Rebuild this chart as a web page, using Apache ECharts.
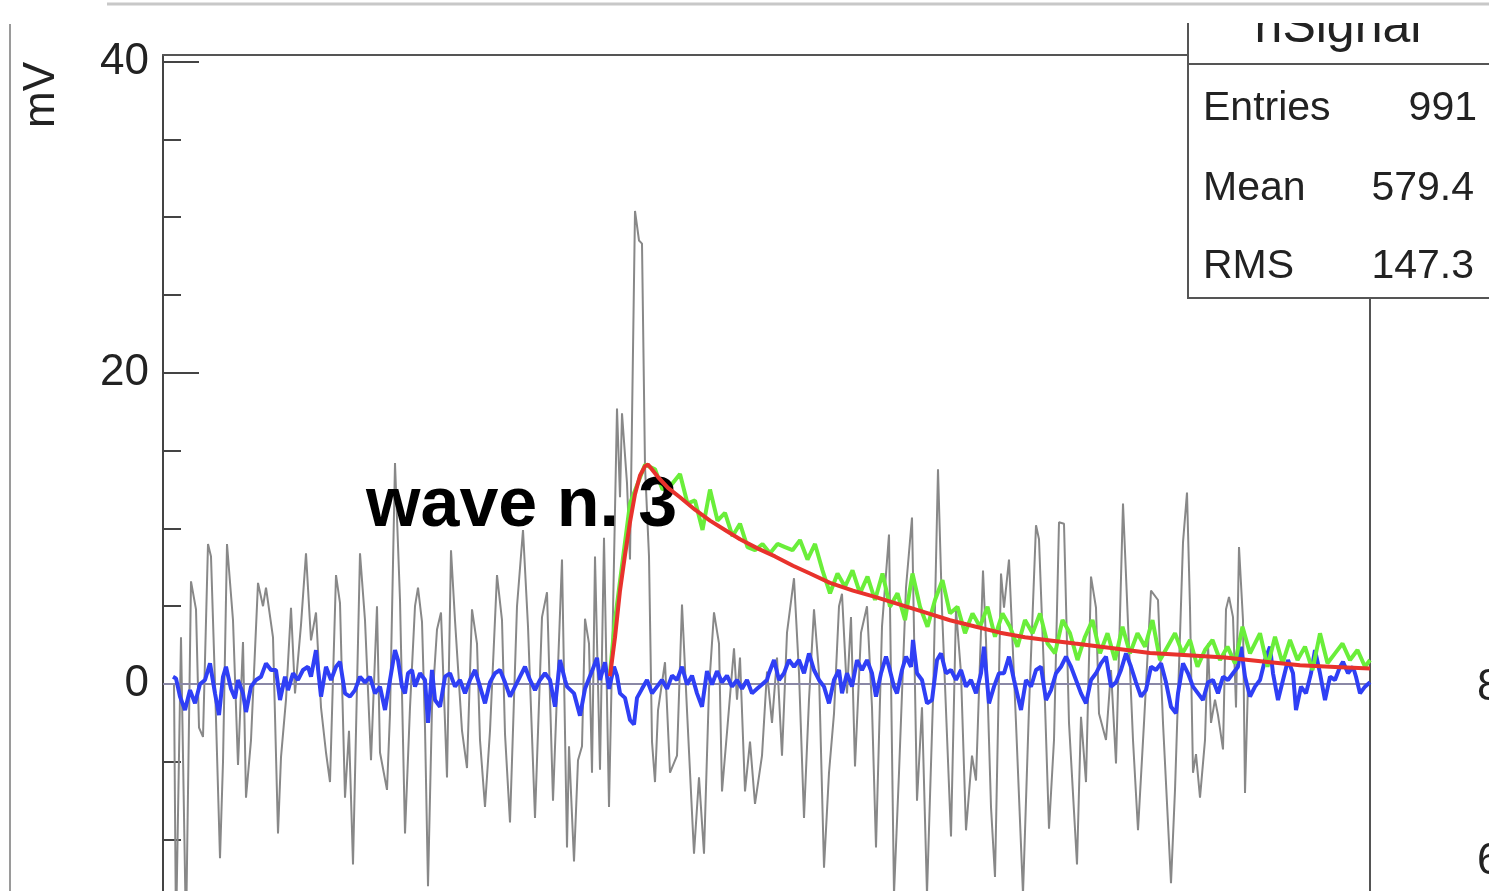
<!DOCTYPE html>
<html>
<head>
<meta charset="utf-8">
<script src="https://cdn.jsdelivr.net/npm/echarts@6/dist/echarts.min.js"></script>
<style>
html,body{margin:0;padding:0;background:#fff;}
#c{width:1489px;height:891px;}
</style>
</head>
<body>
<div id="c"></div>
<script>
// ---- data (x: sample time units, y: mV) ----
const Y_MIN = -13.3;
const Y_MAX = 40.42;
const Y_LABELS = [0, 20, 40];
const MAJOR_TICKS = [0, 20, 40];
const MINOR_TICKS = [-10, -5, 5, 10, 15, 25, 30, 35];
const STAT_NAMES = ['Entries', 'Mean', 'RMS'];
const STAT_VALUES = ['991', '579.4', '147.3'];
const HIST_TITLE = 'hSignal';
const WAVE_LABEL = 'wave n. 3';
const Y_TITLE = 'mV';
const NEIGHBOR_LABELS = ['8', '6'];

const BASELINE = [[0, 0], [1207, 0]];

const GRAY = [[11,0],[13,-16],[18,3],[23,-16],[28,6.6],[33,4.8],[36,-2.8],[40,-3.4],[45,9.0],[48,8.2],[52,0],[57,-11.2],[60,-5],[64,9.0],[70,4.1],[75,-5.2],[80,2.7],[83,-7.3],[88,-3.6],[95,6.5],[100,5.0],[103,6.2],[110,3.0],[115,-9.6],[118,-4.7],[123,-1],[128,4.9],[132,-0.6],[138,3.8],[143,8.4],[148,2.8],[153,4.6],[158,-1.5],[163,-4.4],[167,-6.3],[173,7.0],[177,5.2],[182,-7.3],[186,-3],[190,-11.6],[197,8.4],[202,4.1],[208,-4.9],[214,5.0],[217,-4.4],[224,-6.8],[227,-1.9],[232,14.2],[237,5.4],[242,-9.6],[247,-1.5],[252,5.0],[255,6.2],[259,4.0],[262,-2.8],[265,-13.0],[269,-1.5],[274,3.5],[278,4.6],[284,-6.0],[288,8.6],[292,4.1],[299,-3.0],[304,-5.4],[309,4.8],[314,2.6],[317,-3.6],[322,-7.9],[327,-3.0],[334,7.0],[339,4.1],[342,-3.2],[347,-8.9],[354,5.0],[360,9.9],[365,3.7],[372,-8.6],[379,4.3],[384,5.9],[390,-7.5],[399,8.0],[404,-10.5],[406,-4.0],[411,-11.4],[415,-4.9],[419,-4.0],[422,4.2],[426,2.6],[429,-5.7],[432,8.2],[437,-5.5],[441,9.4],[446,-7.9],[449,1.4],[454,17.7],[457,12],[459,17.4],[464,12.9],[467,8],[472,30.4],[476,28.5],[479,28.3],[482,14.0],[486,8.2],[489,-3.7],[492,-6.3],[495,-1.7],[502,1.4],[507,-5.7],[514,-4.6],[519,5.1],[524,-1.7],[531,-10.9],[536,-6],[541,-10.9],[546,-0.3],[551,4.6],[556,2.6],[559,-6.9],[564,-3.1],[571,2.3],[574,-1],[577,1.7],[582,-6.9],[587,-3.7],[592,-7.7],[599,-4.6],[604,0.8],[609,-2.5],[614,1.7],[619,-4.6],[624,3.3],[631,6.8],[636,0.7],[641,-8.6],[646,-1.0],[651,4.8],[656,0.7],[661,-11.8],[666,-5.7],[671,-1.9],[676,5.0],[679,5.8],[684,-0.6],[688,4.3],[692,-5.3],[698,3.3],[704,5.0],[709,-1.5],[713,-10.5],[719,3.7],[726,9.6],[731,-13.5],[736,-5.7],[743,6.2],[749,10.7],[754,-7.5],[759,-1.5],[764,-13.5],[770,-1],[775,13.8],[779,4.8],[788,-9.8],[793,4.8],[798,0.7],[803,-9.4],[809,-4.6],[813,-6.2],[820,7.3],[823,2.8],[828,-7.9],[832,-12.4],[838,7.1],[841,4.9],[846,8.0],[853,-2.5],[860,-13.5],[866,-1.5],[873,10.2],[876,9.3],[881,0.7],[886,-9.3],[891,-3.6],[896,10.4],[901,10.3],[906,-2.5],[914,-11.6],[918,-2.1],[923,-6.3],[928,6.9],[933,4.9],[936,-1.9],[943,-3.6],[948,0.9],[953,-5.1],[960,11.6],[965,3.9],[970,-3.6],[975,-9.4],[981,-2.5],[988,6.0],[995,5.4],[1000,-2.5],[1008,-12.8],[1012,-6.8],[1020,9.1],[1024,12.3],[1027,4.9],[1030,-5.7],[1033,-4.5],[1037,-7.3],[1042,-3.6],[1045,2.6],[1048,-2.5],[1052,-1.0],[1055,-2.0],[1060,-4.2],[1063,4.8],[1066,5.6],[1070,4.3],[1073,-1.5],[1076,8.8],[1080,4.1],[1082,-7.0],[1085,0]];

const BLUE = [[10,0.47],[13,0.36],[17,-0.81],[22,-1.67],[27,-0.39],[32,-1.24],[37,0],[42,0.26],[47,1.33],[52,-0.6],[56,-2.0],[60,0.47],[63,1.11],[68,-0.3],[72,-0.92],[75,0.26],[80,-0.6],[83,-1.8],[88,-0.17],[93,0.26],[98,0.47],[103,1.33],[108,0.9],[113,0.9],[117,-1.03],[122,0.47],[125,-0.39],[130,0.69],[135,0.26],[140,0.9],[145,1.11],[148,0.47],[153,2.18],[158,-0.81],[163,1.11],[168,0.26],[173,1.11],[177,1.43],[182,-0.6],[187,-0.81],[192,-0.39],[197,0.47],[202,0.11],[207,0.47],[212,-0.6],[217,-0.17],[222,-1.67],[227,0.26],[232,2.18],[235,1.54],[239,-0.17],[242,-0.6],[245,0.69],[249,0.9],[252,-0.17],[257,0.69],[262,0.26],[265,-2.5],[269,0.9],[272,-1.03],[277,-1.46],[282,0.47],[287,0.69],[292,-0.17],[297,0.26],[302,-0.6],[307,0.26],[312,0.9],[317,-0.17],[322,-1.24],[327,0.11],[332,0.69],[337,0.9],[342,0.11],[347,-0.81],[352,-0.17],[357,0.47],[362,1.11],[367,0.26],[372,-0.39],[377,0.26],[382,0.69],[387,0.26],[392,-1.46],[397,1.54],[402,0.26],[404,-0.17],[411,-0.6],[417,-2.03],[422,-0.31],[429,0.83],[434,1.68],[437,0.26],[442,1.4],[446,-0.31],[451,1.11],[454,0.54],[457,-0.6],[462,-0.89],[467,-2.31],[471,-2.6],[474,-0.89],[479,-0.31],[484,0.26],[489,-0.6],[494,-0.17],[499,0.26],[504,-0.31],[509,0.54],[514,0.26],[519,1.11],[524,-0.03],[529,0.54],[534,-0.6],[539,-1.46],[544,0.83],[549,-0.03],[554,0.83],[559,0.11],[564,0.54],[569,-0.17],[574,0.26],[579,-0.31],[584,0.26],[589,-0.6],[594,-0.31],[599,-0.03],[604,0.26],[606,0.69],[611,1.54],[616,0.26],[621,0.69],[626,1.54],[631,1.11],[636,1.54],[641,0.69],[646,1.97],[651,0.9],[656,0.26],[661,-0.17],[666,-1.24],[671,0.26],[676,0.9],[679,-0.6],[684,0.69],[689,-0.17],[694,1.54],[699,0.9],[704,1.54],[709,0.69],[713,-0.81],[718,0.69],[723,1.76],[726,1.11],[731,-0.17],[734,-0.6],[739,0.9],[743,1.76],[748,1.11],[750,2.83],[754,0.69],[759,0.26],[764,-1.24],[769,-1.03],[774,1.54],[778,1.97],[783,0.69],[788,0.9],[793,0.26],[798,0.9],[803,-0.17],[808,0.26],[813,-0.6],[818,0.69],[821,2.4],[826,-1.24],[831,-0.17],[836,0.69],[841,0.69],[846,1.76],[851,0.26],[858,-1.67],[863,0.26],[868,-0.17],[873,0.9],[878,1.11],[883,-1.03],[888,-0.39],[893,0.69],[898,1.11],[903,1.76],[908,1.11],[913,0.26],[918,-0.6],[923,-1.24],[928,0.26],[933,0.69],[938,1.33],[943,1.76],[948,-0.17],[953,0.11],[958,0.9],[963,1.97],[968,1.11],[973,0.11],[978,-0.81],[983,-0.39],[988,1.11],[993,0.9],[998,1.33],[1003,0.11],[1008,-1.46],[1013,-1.88],[1015,-0.6],[1020,1.33],[1025,0.69],[1030,-0.17],[1035,-0.6],[1040,-1.03],[1045,0.11],[1050,0.26],[1055,-0.6],[1060,0.47],[1065,0.26],[1070,0.69],[1075,1.11],[1078,2.4],[1082,0.47],[1087,-0.81],[1092,-0.17],[1097,0.26],[1102,1.54],[1107,2.4],[1110,0.69],[1115,-1.03],[1120,0.26],[1125,1.54],[1130,0.69],[1133,-1.67],[1138,-0.17],[1143,-0.6],[1148,0.69],[1152,2.18],[1157,0.69],[1162,-1.03],[1167,0.47],[1172,0.26],[1177,1.11],[1180,1.43],[1185,0.69],[1190,1.11],[1193,0.47],[1197,-0.6],[1202,-0.17],[1207,0.11]];

const GREEN = [[447,0.7],[452,4.11],[467,11.6],[482,14.1],[492,13.8],[499.5,12.5],[507,12.7],[517,13.5],[524.5,11.6],[532,11.8],[539.5,9.9],[547,12.5],[554.5,10.5],[562,11.0],[569.5,9.5],[577,10.3],[584.5,8.8],[592,8.6],[599.5,9.0],[607,8.4],[614.5,9.0],[622,8.8],[629.5,8.6],[637,9.25],[644.5,8.0],[652,9.0],[659.5,7.3],[667,5.83],[674.5,7.1],[682,6.25],[689.5,7.3],[697,5.83],[704.5,6.9],[712,5.4],[719.5,7.1],[727,4.97],[734.5,5.83],[742,4.11],[749.5,7.1],[757,4.97],[764.5,3.68],[772,5.4],[779.5,6.68],[787,4.54],[794.5,4.97],[802,3.26],[809.5,4.54],[817,3.68],[824.5,4.97],[832,3.04],[839.5,4.54],[847,3.68],[854.5,2.4],[862,4.11],[869.5,3.26],[877,4.54],[884.5,2.6],[892,1.97],[899.5,4.11],[907,3.26],[914.5,1.54],[922,3.04],[929.5,4.11],[937,1.97],[944.5,3.26],[952,1.54],[959.5,3.68],[967,1.97],[974.5,3.26],[982,2.4],[989.5,4.11],[997,1.54],[1004.5,2.4],[1012,3.26],[1019.5,1.97],[1027,2.83],[1034.5,1.11],[1042,2.19],[1049.5,2.83],[1057,1.54],[1064.5,2.4],[1072,1.33],[1079.5,3.68],[1087,1.97],[1097,3.26],[1104.5,1.11],[1112,3.04],[1119.5,1.33],[1127,2.83],[1134.5,1.54],[1142,2.4],[1149.5,0.9],[1157,3.26],[1164.5,1.33],[1172,1.97],[1179.5,2.6],[1187,1.54],[1194.5,2.19],[1202,1.11],[1207,1.54]];

const RED = [[447,0.5],[452,3.0],[457,6.0],[462,8.3],[467,10.4],[472,12.2],[477,13.4],[482,14.0],[485,14.1],[490,13.7],[495,13.3],[505,12.6],[517,12.0],[532,11.2],[547,10.5],[562,9.9],[577,9.3],[595,8.7],[612,8.2],[630,7.6],[647,7.1],[667,6.5],[690,6.0],[712,5.6],[737,5.1],[762,4.6],[787,4.1],[812,3.7],[837,3.3],[862,3.0],[887,2.8],[912,2.6],[950,2.3],[987,2.0],[1025,1.85],[1062,1.7],[1100,1.45],[1137,1.2],[1172,1.1],[1207,1.0]];

// ---- chart ----
const FONT = '"Liberation Sans", Arial, Helvetica, sans-serif';
const chart = echarts.init(document.getElementById('c'), null, {renderer: 'canvas'});

function lineSeries(name, data, color, width, z) {
  return {
    name: name, type: 'line', data: data, z: z,
    showSymbol: false, symbol: 'none', animation: false, sampling: null,
    lineStyle: {color: color, width: width},
    emphasis: {disabled: true}
  };
}

const axisCommon = {
  type: 'value', min: Y_MIN, max: Y_MAX,
  splitLine: {show: false}
};
const FRAME = {color: '#555555', width: 2};

const option = {
  animation: false,
  backgroundColor: '#ffffff',
  grid: {left: 163, right: 119, top: 55, bottom: 0, show: false},
  xAxis: [
    {type: 'value', min: 0, max: 1207, show: false},
    {type: 'value', min: 0, max: 1207, position: 'top',
     axisLine: {show: true, onZero: false, lineStyle: FRAME},
     axisTick: {show: false}, axisLabel: {show: false}, splitLine: {show: false}}
  ],
  yAxis: [
    Object.assign({}, axisCommon, {
      position: 'left',
      axisLine: {show: true, onZero: false, lineStyle: {color: '#444444', width: 2}},
      axisTick: {show: true, inside: true, length: 36, customValues: MAJOR_TICKS,
                 lineStyle: {color: '#444444', width: 2}},
      axisLabel: {show: true, customValues: Y_LABELS, fontSize: 44, color: '#222222',
                  fontFamily: FONT, margin: 14}
    }),
    Object.assign({}, axisCommon, {
      position: 'left',
      axisLine: {show: false},
      axisTick: {show: true, inside: true, length: 18, customValues: MINOR_TICKS,
                 lineStyle: {color: '#444444', width: 2}},
      axisLabel: {show: false}
    }),
    Object.assign({}, axisCommon, {
      position: 'right',
      axisLine: {show: true, onZero: false, lineStyle: FRAME},
      axisTick: {show: false}, axisLabel: {show: false}
    })
  ],
  series: [
    lineSeries('signal', GRAY, '#888888', 2, 2),
    lineSeries('zero', BASELINE, '#8a88a6', 2, 3),
    lineSeries('noise', BLUE, '#2f3ff5', 4, 4),
    lineSeries('filtered', GREEN, '#6aee3a', 4, 5),
    lineSeries('fit', RED, '#e8322c', 4, 7)
  ],
  graphic: {
    elements: [
      {type: 'text', x: 366, y: 507, z: 6,
       style: {text: WAVE_LABEL, font: 'bold 70px ' + FONT, fill: '#000000',
               textAlign: 'left', textVerticalAlign: 'middle'}},
      {type: 'text', x: 42, y: 95, rotation: Math.PI / 2, z: 10,
       style: {text: Y_TITLE, font: '44px ' + FONT, fill: '#222222',
               textAlign: 'center', textVerticalAlign: 'middle'}},
      {type: 'rect', z: 20, shape: {x: 1188, y: -10, width: 400, height: 308},
       style: {fill: '#ffffff', stroke: '#555555', lineWidth: 2}},
      {type: 'line', z: 21, shape: {x1: 1188, y1: 64, x2: 1489, y2: 64},
       style: {stroke: '#555555', lineWidth: 2}},
      {type: 'text', x: 1338, y: 28, z: 21,
       style: {text: HIST_TITLE, font: '50px ' + FONT, fill: '#222222',
               textAlign: 'center', textVerticalAlign: 'middle'}},
      {type: 'text', x: 1203, y: 109, z: 21,
       style: {text: STAT_NAMES[0], font: '41px ' + FONT, fill: '#222222', textAlign: 'left', textVerticalAlign: 'middle'}},
      {type: 'text', x: 1203, y: 189, z: 21,
       style: {text: STAT_NAMES[1], font: '41px ' + FONT, fill: '#222222', textAlign: 'left', textVerticalAlign: 'middle'}},
      {type: 'text', x: 1203, y: 267, z: 21,
       style: {text: STAT_NAMES[2], font: '41px ' + FONT, fill: '#222222', textAlign: 'left', textVerticalAlign: 'middle'}},
      {type: 'text', x: 1477, y: 109, z: 21,
       style: {text: STAT_VALUES[0], font: '41px ' + FONT, fill: '#222222', textAlign: 'right', textVerticalAlign: 'middle'}},
      {type: 'text', x: 1474, y: 189, z: 21,
       style: {text: STAT_VALUES[1], font: '41px ' + FONT, fill: '#222222', textAlign: 'right', textVerticalAlign: 'middle'}},
      {type: 'text', x: 1474, y: 267, z: 21,
       style: {text: STAT_VALUES[2], font: '41px ' + FONT, fill: '#222222', textAlign: 'right', textVerticalAlign: 'middle'}},
      {type: 'rect', z: 30, shape: {x: 1100, y: 0, width: 389, height: 23},
       style: {fill: '#ffffff'}},
      {type: 'line', z: 31, shape: {x1: 107, y1: 4, x2: 1489, y2: 4},
       style: {stroke: '#c8c8c8', lineWidth: 3}},
      {type: 'line', z: 31, shape: {x1: 10, y1: 24, x2: 10, y2: 891},
       style: {stroke: '#9a9a9a', lineWidth: 2}},
      {type: 'text', x: 1477, y: 688, z: 31,
       style: {text: NEIGHBOR_LABELS[0], font: '44px ' + FONT, fill: '#222222', textAlign: 'left', textVerticalAlign: 'middle'}},
      {type: 'text', x: 1477, y: 862, z: 31,
       style: {text: NEIGHBOR_LABELS[1], font: '44px ' + FONT, fill: '#222222', textAlign: 'left', textVerticalAlign: 'middle'}}
    ]
  }
};
chart.setOption(option);
</script>
</body>
</html>
